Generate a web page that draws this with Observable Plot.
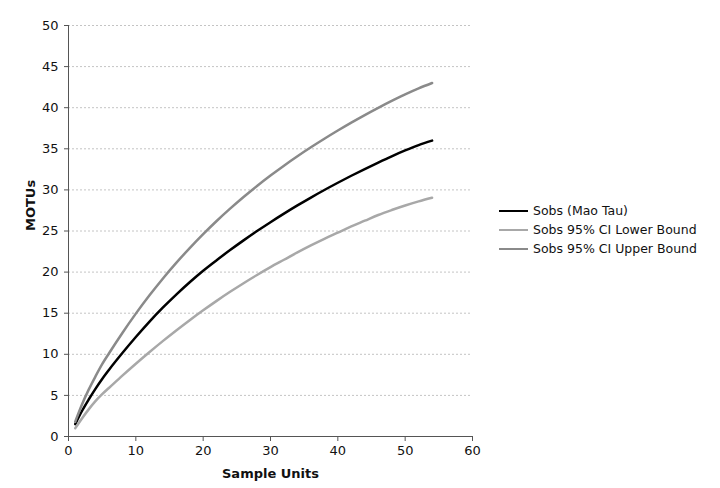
<!DOCTYPE html>
<html>
<head>
<meta charset="utf-8">
<script src="https://cdn.jsdelivr.net/npm/d3@7"></script>
<script src="https://cdn.jsdelivr.net/npm/@observablehq/plot@0.6"></script>
<style>
  html, body { margin: 0; padding: 0; background: #fff; }
  #wrap { position: relative; width: 720px; height: 488px; font-family: "DejaVu Sans", Verdana, sans-serif; }
  #legend { position: absolute; left: 499px; top: 201px; font-size: 12.5px; color: #111; }
  .row { display: flex; align-items: center; height: 19px; }
  .sw { width: 29px; height: 0; border-top-style: solid; border-top-width: 2.5px; margin-right: 5px; }
</style>
</head>
<body>
<div id="wrap"><div id="legend"></div></div>
<script>
const sampleUnits = [1, 2, 3, 4, 5, 6, 8, 10, 12, 14, 16, 18, 20, 22, 24, 26, 28, 30, 32, 34, 36, 38, 40, 42, 44, 46, 48, 50, 52, 54];
const sobs =  [1.5, 3.1, 4.5, 5.8, 7.0, 8.1, 10.15, 12.1, 13.95, 15.67, 17.27, 18.77, 20.17, 21.45, 22.68, 23.86, 24.99, 26.07, 27.11, 28.11, 29.07, 29.99, 30.87, 31.72, 32.54, 33.33, 34.09, 34.8, 35.45, 36.0];
const lower = [1.0, 2.2, 3.3, 4.3, 5.15, 5.9, 7.4, 8.85, 10.25, 11.6, 12.9, 14.15, 15.35, 16.5, 17.6, 18.65, 19.65, 20.6, 21.5, 22.4, 23.25, 24.05, 24.8, 25.55, 26.25, 26.95, 27.55, 28.1, 28.6, 29.05];
const upper = [1.8, 3.9, 5.7, 7.3, 8.8, 10.1, 12.6, 14.95, 17.15, 19.2, 21.12, 22.92, 24.62, 26.22, 27.72, 29.14, 30.48, 31.75, 32.95, 34.09, 35.18, 36.22, 37.22, 38.18, 39.1, 39.98, 40.82, 41.62, 42.35, 43.0];
const seriesNames = ["Sobs (Mao Tau)", "Sobs 95% CI Lower Bound", "Sobs 95% CI Upper Bound"];
const seriesColors = ["#000000", "#a8a8a8", "#8a8a8a"];
const xTicks = [0, 10, 20, 30, 40, 50, 60];
const yTicks = [0, 5, 10, 15, 20, 25, 30, 35, 40, 45, 50];

const seriesValues = [sobs, lower, upper];
const data = [];
seriesNames.forEach((name, i) => {
  sampleUnits.forEach((x, j) => data.push({series: name, x, y: seriesValues[i][j]}));
});

const chart = Plot.plot({
  width: 720,
  height: 488,
  marginLeft: 68,
  marginRight: 248,
  marginTop: 25,
  marginBottom: 52,
  style: {fontFamily: "DejaVu Sans, Verdana, sans-serif", fontSize: "13px", color: "#111", background: "#fff"},
  x: {domain: [0, 60]},
  y: {domain: [0, 50]},
  color: {domain: seriesNames, range: seriesColors},
  marks: [
    Plot.ruleY(yTicks.filter(d => d > 0), {stroke: "#c4c4c4", strokeDasharray: "2,2", strokeWidth: 1}),
    Plot.axisX({ticks: xTicks, tickSize: 5, tickPadding: 4, label: null, stroke: "#555", fill: "#111", fontSize: 13}),
    Plot.axisY({ticks: yTicks, tickSize: 4, tickPadding: 6, label: null, stroke: "#555", fill: "#111", fontSize: 13}),
    Plot.ruleY([0], {stroke: "#555"}),
    Plot.ruleX([0], {stroke: "#555"}),
    Plot.line(data, {x: "x", y: "y", z: "series", stroke: "series", strokeWidth: 2.5, curve: "monotone-x"}),
    Plot.text(["Sample Units"], {frameAnchor: "bottom", dy: 41, fontWeight: "bold", fontSize: 13, fill: "#111"}),
    Plot.text(["MOTUs"], {frameAnchor: "left", dx: -38, rotate: -90, fontWeight: "bold", fontSize: 13, fill: "#111"})
  ]
});
const wrap = document.getElementById("wrap");
wrap.insertBefore(chart, wrap.firstChild);

const legend = document.getElementById("legend");
seriesNames.forEach((name, i) => {
  const row = document.createElement("div");
  row.className = "row";
  const sw = document.createElement("span");
  sw.className = "sw";
  sw.style.borderTopColor = seriesColors[i];
  const t = document.createElement("span");
  t.textContent = name;
  row.appendChild(sw);
  row.appendChild(t);
  legend.appendChild(row);
});
</script>
</body>
</html>
